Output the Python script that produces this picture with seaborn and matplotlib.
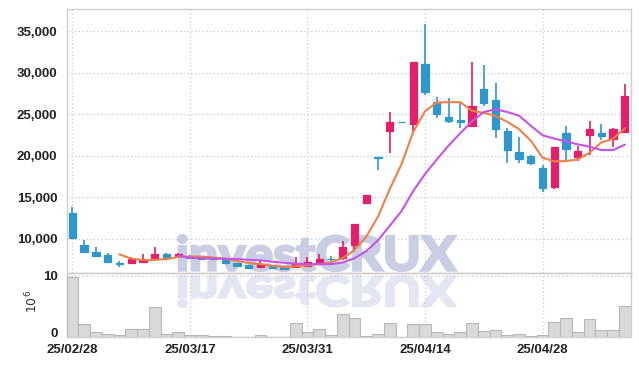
import numpy as np
import pandas as pd
import matplotlib
matplotlib.use("Agg")
import matplotlib.pyplot as plt
import seaborn as sns
from matplotlib.textpath import TextPath
from matplotlib.patches import PathPatch
from matplotlib.font_manager import FontProperties, fontManager
from matplotlib.transforms import Affine2D, IdentityTransform, ScaledTranslation

# ---------------- data ----------------
tick_pos = [0, 10, 20, 30, 40]
tick_labels = ["25/02/28", "25/03/17", "25/03/31", "25/04/14", "25/04/28"]

opens = [13150, 9260, 8430, 8060, 7145, 7145, 7230, 7590, 8229, 7900,
         8000, 7850, 7760, 7600, 7108, 6867, 6663, 6831, 6711, 6626,
         6783, 7190, 7620, 7675, 9220, 14300, 19850, 23050, 24120, 23855,
         31050, 26470, 24700, 24337, 23615, 28070, 26750, 23010, 20480, 20000,
         18590, 16265, 22770, 19840, 22500, 22800, 22090, 22830]
highs = [13820, 9820, 9070, 8280, 7350, 7870, 8156, 9036, 8313, 8313,
         8080, 7900, 7800, 7650, 7150, 6900, 7470, 6860, 6740, 7867,
         7795, 8156, 7952, 9760, 11800, 15300, 19870, 25337, 24130, 31350,
         35870, 27140, 26950, 26470, 31290, 31000, 28830, 23340, 22250, 20160,
         18915, 21100, 23650, 21200, 24180, 23820, 23410, 28710]
lows = [10080, 8350, 7800, 7190, 6630, 7070, 7190, 7390, 7627, 7880,
        7720, 7554, 7520, 7000, 6750, 6520, 6620, 6480, 6400, 6600,
        6750, 6988, 7072, 7470, 8600, 14280, 18300, 20400, 24080, 23000,
        27350, 24540, 23940, 23340, 23500, 26020, 22170, 19190, 19120, 18880,
        15700, 16000, 19520, 19430, 20120, 21930, 21050, 22730]
closes = [10120, 8450, 7990, 7265, 6930, 7590, 7506, 8193, 7675, 8229,
          7760, 7580, 7560, 7060, 6783, 6542, 6952, 6506, 6421, 7072,
          7229, 7590, 7580, 9072, 11770, 15280, 19800, 24060, 24090, 31300,
          27640, 25060, 24250, 24130, 26025, 26420, 23290, 20690, 19675, 19120,
          16180, 21050, 20880, 20600, 23220, 22370, 23220, 27230]
volumes = [9.79, 2.12, 0.82, 0.49, 0.33, 1.30, 1.30, 4.90, 0.49, 0.82,
           0.30, 0.30, 0.15, 0.15, 0.05, 0.02, 0.33, 0.02, 0.02, 2.28,
           0.86, 1.30, 0.33, 3.75, 3.10, 0.15, 0.49, 2.28, 0.02, 2.12,
           2.12, 0.82, 0.49, 0.82, 2.28, 0.98, 1.14, 0.33, 0.49, 0.15,
           0.33, 2.45, 3.10, 0.82, 2.94, 1.14, 1.14, 5.06]

df = pd.DataFrame({"open": opens, "high": highs, "low": lows,
                   "close": closes, "volume": volumes})
df["idx"] = np.arange(len(df))
df["ma5"] = df["close"].rolling(5).mean()
df["ma10"] = df["close"].rolling(10).mean()

UP = "#e21f68"
DOWN = "#2f97c9"
ORANGE = "#ef8048"
PURPLE = "#c653e6"
GRID = "#c3c8dd"
SPINE = "#cfcfcf"

sns.set_theme(style="white")
plt.rcParams["font.family"] = ["Liberation Sans", "DejaVu Sans"]

installed = {f.name for f in fontManager.ttflist}
TICK_FAMILY, TICK_SIZE = ["Liberation Sans", "DejaVu Sans"], 9.5

W, H = 639, 366
fig = plt.figure(figsize=(W / 100, H / 100), dpi=100)
fig.patch.set_facecolor("white")

L, R = 66.5, 630.7
T_main, B_main, B_vol = 9.3, 272.5, 337.3
ax = fig.add_axes([L / W, 1 - B_main / H, (R - L) / W, (B_main - T_main) / H])
axv = fig.add_axes([L / W, 1 - B_vol / H, (R - L) / W, (B_vol - B_main) / H])
for a in (ax, axv):
    a.set_facecolor("none")

# ---------------- watermark ----------------
wm_family = ["Lato", "Liberation Sans", "DejaVu Sans"] if "Lato" in installed else ["Liberation Sans", "DejaVu Sans"]
fp = FontProperties(family=wm_family, weight="black")
tp = TextPath((0, 0), "investCRUX", size=100, prop=fp)
ext = tp.get_extents()
x0, x1 = 178.0, 456.0
top_main, base_main = H - 235.0, H - 271.0
sx = (x1 - x0) / ext.width
sy = (top_main - base_main) / ext.height
p_main = Affine2D().translate(-ext.x0, -ext.y0).scale(sx, sy).translate(x0, base_main).transform_path(tp)
fig.add_artist(PathPatch(p_main, transform=IdentityTransform(), facecolor="#c9cee3",
                         edgecolor="#c9cee3", linewidth=1.6, zorder=-5))
refl_top, refl_bot = H - 276.0, H - 307.0
sy2 = (refl_top - refl_bot) / ext.height
p_ref = Affine2D().translate(-ext.x0, -ext.y0).scale(sx, -sy2).translate(x0, refl_top).transform_path(tp)
fig.add_artist(PathPatch(p_ref, transform=IdentityTransform(), facecolor="#e4e6f1",
                         edgecolor="#e4e6f1", linewidth=1.6, zorder=-5))

# ---------------- candles ----------------
up = df["close"] >= df["open"]
cols = np.where(up, UP, DOWN)
ax.vlines(df["idx"], df["low"], df["high"], colors=cols, linewidth=1.2, zorder=3)
body_bottom = np.minimum(df["open"], df["close"])
body_h = np.abs(df["close"] - df["open"])
ax.bar(df["idx"], body_h, bottom=body_bottom, width=0.62, color=cols,
       edgecolor=cols, linewidth=0.9, zorder=4)

sns.lineplot(data=df, x="idx", y="ma5", ax=ax, color=ORANGE, linewidth=1.5, zorder=5)
sns.lineplot(data=df, x="idx", y="ma10", ax=ax, color=PURPLE, linewidth=1.5, zorder=5)

ax.set_xlim(-0.5, len(df) - 0.5)
ax.set_ylim(5964, 37651)
yt = [10000, 15000, 20000, 25000, 30000, 35000]
ax.set_yticks(yt)
ax.set_yticklabels([f"{v:,}" for v in yt])
ax.set_xticks(tick_pos)
ax.set_xticklabels([])
ax.set_xlabel("")
ax.set_ylabel("")

# ---------------- volume ----------------
sns.barplot(data=df, x="idx", y="volume", ax=axv, color="#d9d9d9", saturation=1,
            edgecolor="#b8b8b8", linewidth=0.8, width=1.0, zorder=3)
axv.set_xlim(-0.5, len(df) - 0.5)
axv.set_ylim(0, 10.57)
axv.set_yticks([0, 10])
axv.set_yticklabels(["0", "10"])
axv.set_xticks(tick_pos)
axv.set_xticklabels(tick_labels)
axv.set_xlabel("")
axv.set_ylabel("")

for a in (ax, axv):
    a.grid(True, linestyle=(0, (1, 2)), color=GRID, linewidth=0.9, zorder=0)
    a.set_axisbelow(True)
    for s in a.spines.values():
        s.set_visible(True)
        s.set_color(SPINE)
        s.set_linewidth(1.0)
    a.tick_params(axis="both", length=0, labelcolor="#222222")
    a.tick_params(axis="y", pad=6.5)
    a.tick_params(axis="x", pad=4.8)
    for lab in a.get_xticklabels() + a.get_yticklabels():
        lab.set_fontweight("bold")
        lab.set_family(TICK_FAMILY)
        lab.set_fontsize(TICK_SIZE)

# nudge the volume "0" label up so it clears the first date label
zero_lab = axv.get_yticklabels()[0]
zero_lab.set_transform(zero_lab.get_transform() + ScaledTranslation(0, 3.5 / 72, fig.dpi_scale_trans))

fig.text(32.5 / W, 1 - 301 / H, r"$10^6$", rotation=90, ha="center", va="center",
         fontsize=9, color="#333333")

fig.savefig("out.png", dpi=100)
